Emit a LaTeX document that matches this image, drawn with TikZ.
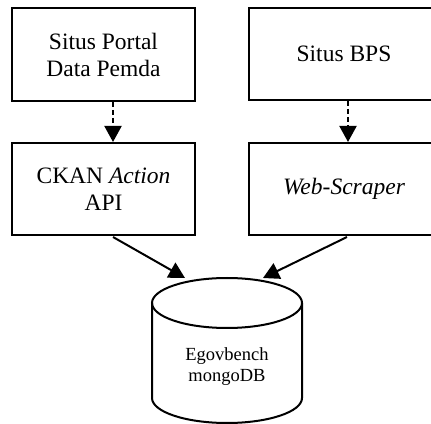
\documentclass[tikz,border=0pt]{standalone}
\usepackage{fontspec}
\setmainfont{Liberation Serif}
\usetikzlibrary{arrows.meta}

\tikzset{
    kotak/.style={draw, line width=2pt, minimum width=183pt, minimum height=92pt,
        inner sep=0pt, align=center, font=\fontsize{23.5}{27}\selectfont},
    panah/.style={line width=2pt, -{Triangle[length=16pt,width=17pt]}},
    panahputus/.style={panah, dash pattern=on 5pt off 3pt}
}

\begin{document}
\begin{tikzpicture}[x=1pt, y=1pt]
    \useasboundingbox (0,0) rectangle (431,423);

    % Sumber data
    \node[kotak, minimum height=93pt] (portal) at (103.5,368.5) {Situs Portal\\Data Pemda};
    \node[kotak, minimum width=190pt] (bps) at (344,369) {Situs BPS};

    % Pengambil data
    \node[kotak] (ckan) at (103.5,234) {CKAN \textit{Action}\\API};
    \node[kotak, minimum width=190pt] (scraper) at (344,234) {\textit{Web-Scraper}};

    % Basis data (silinder)
    \draw[line width=2pt, fill=white] (152,120) -- (152,25)
        arc[start angle=180, end angle=360, x radius=75, y radius=25] -- (302,120);
    \draw[line width=2pt] (227,120) ellipse [x radius=75, y radius=25];
    \node[align=center, font=\fontsize{18.5}{21}\selectfont] (mongo) at (227,56) {Egovbench\\mongoDB};
    \coordinate (masukkiri) at (185,145);
    \coordinate (masukkanan) at (263,145);

    % Aliran data
    \draw[panahputus] ([xshift=9.5pt]portal.south) -- ([xshift=9.5pt]ckan.north);
    \draw[panahputus] ([xshift=4pt]bps.south) -- ([xshift=4pt]scraper.north);
    \draw[panah] ([xshift=9.5pt,yshift=-1pt]ckan.south) -- (masukkiri);
    \draw[panah] ([xshift=3pt,yshift=-1pt]scraper.south) -- (masukkanan);
\end{tikzpicture}
\end{document}
